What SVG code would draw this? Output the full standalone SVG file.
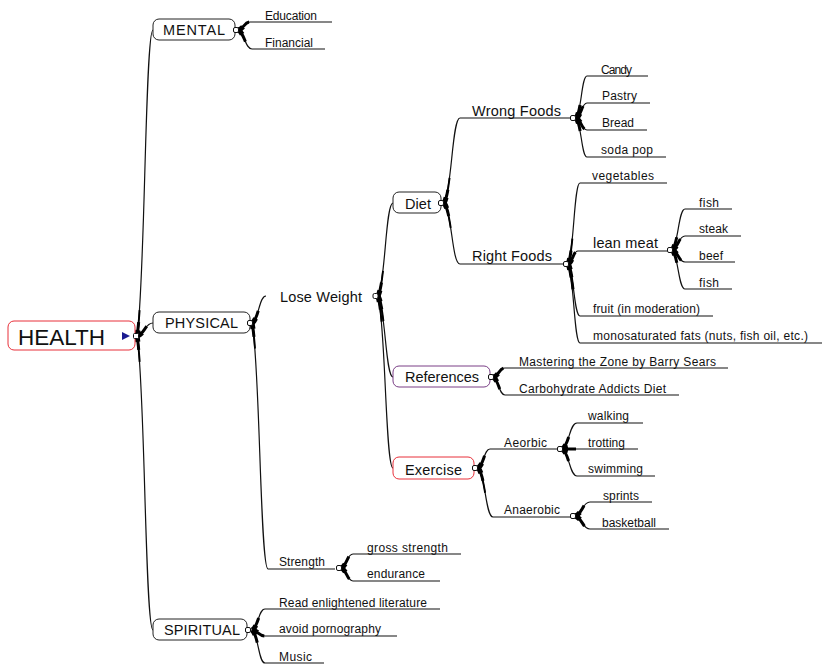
<svg xmlns="http://www.w3.org/2000/svg" xmlns:xlink="http://www.w3.org/1999/xlink" width="824" height="670" viewBox="0 0 824 670">
<style>
text{font-family:"Liberation Sans",Arial,sans-serif;fill:#111}
.nl{font-size:14.5px}
.lf{font-size:12px}
.box{fill:#fff;stroke:#222;stroke-width:1}
.red{stroke:#e8303a}
.pur{stroke:#7a3f86}
.dot{fill:#fff;stroke:#111;stroke-width:1}
.b{fill:none;stroke:#111;stroke-width:1.2}
.t1{fill:none;stroke:#000;stroke-width:5;stroke-dasharray:6 4000}
.t2{fill:none;stroke:#000;stroke-width:3;stroke-dasharray:14 4000}
.t3{fill:none;stroke:#000;stroke-width:1.9;stroke-dasharray:26 4000}
</style>
<defs>
<path id="p-mental" d="M137,336 C145,290 145,30 153,30"/>
<path id="p-physical" d="M137,336 C145,334 145,323 153,323"/>
<path id="p-spiritual" d="M137,336 C145,380 145,630 153,630"/>
<path id="p-education" d="M238,30 C244,29 244,22 250,22 H332"/>
<path id="p-financial" d="M238,30 C245,33 245,49 252,49 H325"/>
<path id="p-loseweight" d="M252,323 C259,319 259,296 266,296"/>
<path id="p-strength" d="M252,323 C260,360 260,569 268,569 H335"/>
<path id="p-diet" d="M378,296 C385.5,282 385.5,203 393,203"/>
<path id="p-references" d="M378,296 C385.5,308 385.5,377 393,377"/>
<path id="p-exercise" d="M378,296 C385.5,322 385.5,468 393,468"/>
<path id="p-wrong" d="M444,203 C452,190 452,118 460,118 H570"/>
<path id="p-right" d="M444,203 C452,212 452,264 460,264 H563"/>
<path id="p-candy" d="M576,118 C581.5,112 581.5,76 587,76 H648"/>
<path id="p-pastry" d="M576,118 C581.5,116 581.5,103 587,103 H650"/>
<path id="p-bread" d="M576,118 C581.5,120 581.5,130 587,130 H647"/>
<path id="p-soda" d="M576,118 C581.5,124 581.5,157 587,157 H666"/>
<path id="p-veg" d="M568,264 C574,252 574,183 580,183 H667"/>
<path id="p-lean" d="M568,264 C573,262 573,251 578,251 H667"/>
<path id="p-fruit" d="M568,264 C574,272 574,316 580,316 H713"/>
<path id="p-mono" d="M568,264 C574,276 574,343 580,343 H822"/>
<path id="p-fish1" d="M672,250 C678.5,244 678.5,209 685,209 H732"/>
<path id="p-steak" d="M672,250 C678.5,248 678.5,236 685,236 H741"/>
<path id="p-beef" d="M672,250 C678.5,252 678.5,262 685,262 H735"/>
<path id="p-fish2" d="M672,250 C678.5,256 678.5,289 685,289 H732"/>
<path id="p-mastering" d="M493,377 C499,376 499,368 505,368 H728"/>
<path id="p-carbo" d="M493,377 C499,380 499,395 505,395 H679"/>
<path id="p-aeorbic" d="M478,468 C484,465 484,449 490,449 H557"/>
<path id="p-anaerobic" d="M478,468 C485.5,475 485.5,517 493,517 H571"/>
<path id="p-walking" d="M562,449 C569.5,445 569.5,423 577,423 H643"/>
<path id="p-trotting" d="M562,449 H638"/>
<path id="p-swimming" d="M562,449 C569.5,453 569.5,476 577,476 H655"/>
<path id="p-sprints" d="M575,516 C582.5,514 582.5,502 590,502 H652"/>
<path id="p-basketball" d="M575,516 C582.5,518 582.5,529 590,529 H669"/>
<path id="p-gross" d="M341,568 C347,566 347,554 353,554 H461"/>
<path id="p-endurance" d="M341,568 C347,570 347,581 353,581 H440"/>
<path id="p-read" d="M252,630 C258.5,627 258.5,609 265,609 H440"/>
<path id="p-avoid" d="M252,630 C258.5,631 258.5,636 265,636 H397"/>
<path id="p-music" d="M252,630 C258.5,635 258.5,663 265,663 H324"/>
</defs>
<g id="connectors">
<use xlink:href="#p-mental" class="b"/><use xlink:href="#p-mental" class="t1"/><use xlink:href="#p-mental" class="t2"/><use xlink:href="#p-mental" class="t3"/>
<use xlink:href="#p-physical" class="b"/><use xlink:href="#p-physical" class="t1"/><use xlink:href="#p-physical" class="t2"/>
<use xlink:href="#p-spiritual" class="b"/><use xlink:href="#p-spiritual" class="t1"/><use xlink:href="#p-spiritual" class="t2"/><use xlink:href="#p-spiritual" class="t3"/>
<use xlink:href="#p-education" class="b"/><use xlink:href="#p-education" class="t1"/><use xlink:href="#p-education" class="t2"/>
<use xlink:href="#p-financial" class="b"/><use xlink:href="#p-financial" class="t1"/><use xlink:href="#p-financial" class="t2"/>
<use xlink:href="#p-loseweight" class="b"/><use xlink:href="#p-loseweight" class="t1"/><use xlink:href="#p-loseweight" class="t2"/>
<use xlink:href="#p-strength" class="b"/><use xlink:href="#p-strength" class="t1"/><use xlink:href="#p-strength" class="t2"/><use xlink:href="#p-strength" class="t3"/>
<use xlink:href="#p-diet" class="b"/><use xlink:href="#p-diet" class="t1"/><use xlink:href="#p-diet" class="t2"/><use xlink:href="#p-diet" class="t3"/>
<use xlink:href="#p-references" class="b"/><use xlink:href="#p-references" class="t1"/><use xlink:href="#p-references" class="t2"/><use xlink:href="#p-references" class="t3"/>
<use xlink:href="#p-exercise" class="b"/><use xlink:href="#p-exercise" class="t1"/><use xlink:href="#p-exercise" class="t2"/><use xlink:href="#p-exercise" class="t3"/>
<use xlink:href="#p-wrong" class="b"/><use xlink:href="#p-wrong" class="t1"/><use xlink:href="#p-wrong" class="t2"/><use xlink:href="#p-wrong" class="t3"/>
<use xlink:href="#p-right" class="b"/><use xlink:href="#p-right" class="t1"/><use xlink:href="#p-right" class="t2"/><use xlink:href="#p-right" class="t3"/>
<use xlink:href="#p-candy" class="b"/><use xlink:href="#p-candy" class="t1"/><use xlink:href="#p-candy" class="t2"/>
<use xlink:href="#p-pastry" class="b"/><use xlink:href="#p-pastry" class="t1"/><use xlink:href="#p-pastry" class="t2"/>
<use xlink:href="#p-bread" class="b"/><use xlink:href="#p-bread" class="t1"/><use xlink:href="#p-bread" class="t2"/>
<use xlink:href="#p-soda" class="b"/><use xlink:href="#p-soda" class="t1"/><use xlink:href="#p-soda" class="t2"/>
<use xlink:href="#p-veg" class="b"/><use xlink:href="#p-veg" class="t1"/><use xlink:href="#p-veg" class="t2"/><use xlink:href="#p-veg" class="t3"/>
<use xlink:href="#p-lean" class="b"/><use xlink:href="#p-lean" class="t1"/><use xlink:href="#p-lean" class="t2"/>
<use xlink:href="#p-fruit" class="b"/><use xlink:href="#p-fruit" class="t1"/><use xlink:href="#p-fruit" class="t2"/><use xlink:href="#p-fruit" class="t3"/>
<use xlink:href="#p-mono" class="b"/><use xlink:href="#p-mono" class="t1"/><use xlink:href="#p-mono" class="t2"/><use xlink:href="#p-mono" class="t3"/>
<use xlink:href="#p-fish1" class="b"/><use xlink:href="#p-fish1" class="t1"/><use xlink:href="#p-fish1" class="t2"/>
<use xlink:href="#p-steak" class="b"/><use xlink:href="#p-steak" class="t1"/><use xlink:href="#p-steak" class="t2"/>
<use xlink:href="#p-beef" class="b"/><use xlink:href="#p-beef" class="t1"/><use xlink:href="#p-beef" class="t2"/>
<use xlink:href="#p-fish2" class="b"/><use xlink:href="#p-fish2" class="t1"/><use xlink:href="#p-fish2" class="t2"/>
<use xlink:href="#p-mastering" class="b"/><use xlink:href="#p-mastering" class="t1"/><use xlink:href="#p-mastering" class="t2"/>
<use xlink:href="#p-carbo" class="b"/><use xlink:href="#p-carbo" class="t1"/><use xlink:href="#p-carbo" class="t2"/>
<use xlink:href="#p-aeorbic" class="b"/><use xlink:href="#p-aeorbic" class="t1"/><use xlink:href="#p-aeorbic" class="t2"/>
<use xlink:href="#p-anaerobic" class="b"/><use xlink:href="#p-anaerobic" class="t1"/><use xlink:href="#p-anaerobic" class="t2"/><use xlink:href="#p-anaerobic" class="t3"/>
<use xlink:href="#p-walking" class="b"/><use xlink:href="#p-walking" class="t1"/><use xlink:href="#p-walking" class="t2"/>
<use xlink:href="#p-trotting" class="b"/><use xlink:href="#p-trotting" class="t1"/><use xlink:href="#p-trotting" class="t2"/>
<use xlink:href="#p-swimming" class="b"/><use xlink:href="#p-swimming" class="t1"/><use xlink:href="#p-swimming" class="t2"/>
<use xlink:href="#p-sprints" class="b"/><use xlink:href="#p-sprints" class="t1"/><use xlink:href="#p-sprints" class="t2"/>
<use xlink:href="#p-basketball" class="b"/><use xlink:href="#p-basketball" class="t1"/><use xlink:href="#p-basketball" class="t2"/>
<use xlink:href="#p-gross" class="b"/><use xlink:href="#p-gross" class="t1"/><use xlink:href="#p-gross" class="t2"/>
<use xlink:href="#p-endurance" class="b"/><use xlink:href="#p-endurance" class="t1"/><use xlink:href="#p-endurance" class="t2"/>
<use xlink:href="#p-read" class="b"/><use xlink:href="#p-read" class="t1"/><use xlink:href="#p-read" class="t2"/>
<use xlink:href="#p-avoid" class="b"/><use xlink:href="#p-avoid" class="t1"/><use xlink:href="#p-avoid" class="t2"/>
<use xlink:href="#p-music" class="b"/><use xlink:href="#p-music" class="t1"/><use xlink:href="#p-music" class="t2"/>
</g>
<g id="health"><rect class="box red" x="8" y="321" width="127" height="29" rx="6"/><text x="18" y="345" font-size="22.5" textLength="87">HEALTH</text><polygon points="122,332 130,336 122,340" fill="#1a1a90"/><rect class="dot" x="133.5" y="333.5" width="5" height="5" rx="1"/></g>
<g id="mental"><rect class="box" x="153" y="19" width="82" height="21" rx="6"/><text class="nl" x="163" y="35" textLength="62">MENTAL</text><rect class="dot" x="233.5" y="27.5" width="5" height="5" rx="1.5"/></g>
<g id="education"><text class="lf" x="265" y="20" textLength="52">Education</text></g>
<g id="financial"><text class="lf" x="265" y="47" textLength="48">Financial</text></g>
<g id="physical"><rect class="box" x="153" y="312" width="97" height="21" rx="6"/><text class="nl" x="165" y="328" textLength="73">PHYSICAL</text><rect class="dot" x="247.5" y="320.5" width="5" height="5" rx="1.5"/></g>
<g id="loseweight"><text class="nl" x="280" y="302" textLength="82">Lose Weight</text><rect class="dot" x="373" y="293.5" width="5" height="5" rx="1.5"/></g>
<g id="diet"><rect class="box" x="393" y="192" width="48" height="21" rx="6"/><text class="nl" x="405" y="209" textLength="26">Diet</text><rect class="dot" x="438.5" y="200.5" width="5" height="5" rx="1.5"/></g>
<g id="wrongfoods"><text class="nl" x="472" y="116" textLength="89">Wrong Foods</text><rect class="dot" x="570.5" y="115.5" width="5" height="5" rx="1.5"/></g>
<g id="candy"><text class="lf" x="601" y="74" textLength="31">Candy</text></g>
<g id="pastry"><text class="lf" x="602" y="100" textLength="35">Pastry</text></g>
<g id="bread"><text class="lf" x="602" y="127" textLength="32">Bread</text></g>
<g id="sodapop"><text class="lf" x="601" y="154" textLength="52">soda pop</text></g>
<g id="rightfoods"><text class="nl" x="472" y="261" textLength="80">Right Foods</text><rect class="dot" x="563.5" y="261.5" width="5" height="5" rx="1.5"/></g>
<g id="vegetables"><text class="lf" x="592" y="180" textLength="62">vegetables</text></g>
<g id="leanmeat"><text class="nl" x="593" y="248" textLength="65">lean meat</text><rect class="dot" x="667.5" y="247.5" width="5" height="5" rx="1.5"/></g>
<g id="fish1"><text class="lf" x="699" y="207" textLength="20">fish</text></g>
<g id="steak"><text class="lf" x="699" y="233" textLength="29">steak</text></g>
<g id="beef"><text class="lf" x="699" y="260" textLength="24">beef</text></g>
<g id="fish2"><text class="lf" x="699" y="287" textLength="20">fish</text></g>
<g id="fruit"><text class="lf" x="593" y="313" textLength="107">fruit (in moderation)</text></g>
<g id="mono"><text class="lf" x="593" y="340" textLength="215">monosaturated fats (nuts, fish oil, etc.)</text></g>
<g id="references"><rect class="box pur" x="393" y="366" width="97" height="21" rx="6"/><text class="nl" x="405" y="382" textLength="74">References</text><rect class="dot" x="488.5" y="374.5" width="5" height="5" rx="1.5"/></g>
<g id="mastering"><text class="lf" x="519" y="366" textLength="197">Mastering the Zone by Barry Sears</text></g>
<g id="carbo"><text class="lf" x="519" y="393" textLength="147">Carbohydrate Addicts Diet</text></g>
<g id="exercise"><rect class="box red" x="393" y="457" width="81" height="22" rx="6"/><text class="nl" x="405" y="475" textLength="57">Exercise</text><rect class="dot" x="472.5" y="465.5" width="5" height="5" rx="1.5"/></g>
<g id="aeorbic"><text class="lf" x="504" y="447" textLength="43">Aeorbic</text><rect class="dot" x="557.5" y="446.5" width="5" height="5" rx="1.5"/></g>
<g id="walking"><text class="lf" x="588" y="420" textLength="41">walking</text></g>
<g id="trotting"><text class="lf" x="588" y="447" textLength="37">trotting</text></g>
<g id="swimming"><text class="lf" x="588" y="473" textLength="55">swimming</text></g>
<g id="anaerobic"><text class="lf" x="504" y="514" textLength="56">Anaerobic</text><rect class="dot" x="570.5" y="513.5" width="5" height="5" rx="1.5"/></g>
<g id="sprints"><text class="lf" x="603" y="500" textLength="36">sprints</text></g>
<g id="basketball"><text class="lf" x="602" y="527" textLength="54">basketball</text></g>
<g id="strength"><text class="lf" x="279" y="566" textLength="46">Strength</text><rect class="dot" x="336.5" y="565.5" width="5" height="5" rx="1.5"/></g>
<g id="gross"><text class="lf" x="367" y="552" textLength="81">gross strength</text></g>
<g id="endurance"><text class="lf" x="367" y="578" textLength="58">endurance</text></g>
<g id="spiritual"><rect class="box" x="153" y="619" width="94" height="21" rx="6"/><text class="nl" x="164" y="635" textLength="76">SPIRITUAL</text><rect class="dot" x="245.5" y="627.5" width="5" height="5" rx="1.5"/></g>
<g id="read"><text class="lf" x="279" y="607" textLength="148">Read enlightened literature</text></g>
<g id="avoid"><text class="lf" x="279" y="633" textLength="102">avoid pornography</text></g>
<g id="music"><text class="lf" x="279" y="661" textLength="33">Music</text></g>
</svg>
